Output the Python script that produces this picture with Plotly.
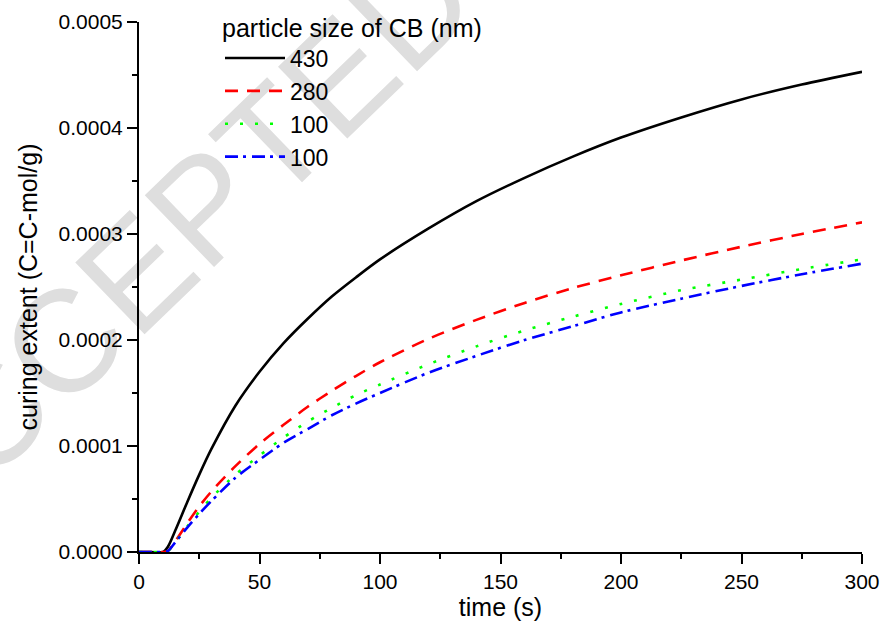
import base64
import plotly.graph_objects as go

# ---- data ----
time_s = [0, 5, 10, 12, 15, 20, 25, 30, 40, 50, 60, 70, 80, 90, 100,
          120, 140, 160, 180, 200, 225, 250, 275, 300]

cb_430 = [0, 0, 0, 0.000005, 0.000020, 0.000047, 0.000073, 0.000097, 0.000138,
          0.000170, 0.000197, 0.000220, 0.000241, 0.000259, 0.000276, 0.000305,
          0.000331, 0.000353, 0.000373, 0.000391, 0.000410, 0.000427, 0.000441, 0.000453]
cb_280 = [0, 0, 0, 0.000001, 0.000010, 0.000027, 0.000043, 0.000057, 0.000081,
          0.000102, 0.000120, 0.000137, 0.000152, 0.000166, 0.000179, 0.000201,
          0.000219, 0.000235, 0.000249, 0.000261, 0.000275, 0.000288, 0.000300, 0.000311]
cb_100a = [0, 0, 0, 0.000001, 0.000009, 0.000024, 0.000038, 0.000051, 0.000073,
           0.000091, 0.000108, 0.000123, 0.000136, 0.000148, 0.000158, 0.000177,
           0.000194, 0.000209, 0.000222, 0.000234, 0.000247, 0.000257, 0.000267, 0.000276]
cb_100b = [0, 0, 0, 0.000001, 0.000009, 0.000023, 0.000036, 0.000048, 0.000070,
           0.000087, 0.000103, 0.000116, 0.000129, 0.000140, 0.000150, 0.000169,
           0.000185, 0.000200, 0.000213, 0.000226, 0.000239, 0.000251, 0.000262, 0.000272]

series_names = ["430", "280", "100", "100"]
series_values = [cb_430, cb_280, cb_100a, cb_100b]
series_colors = ["#000000", "#ff0000", "#00ff00", "#0000ff"]
series_dash = ["solid", "13px,9px", "3px,12px", "13px,5px,3px,6px"]

x_ticks = [0, 50, 100, 150, 200, 250, 300]
y_ticks = [0, 0.0001, 0.0002, 0.0003, 0.0004, 0.0005]

FONT = "Liberation Sans, Arial, Helvetica, sans-serif"

fig = go.Figure()
for name, vals, col, dash in zip(series_names, series_values, series_colors, series_dash):
    fig.add_trace(go.Scatter(
        x=time_s, y=vals, name=name, mode="lines",
        line=dict(color=col, width=2.6, dash=dash, shape="spline", smoothing=0.8),
    ))

# faint watermark behind the plot, as an inline SVG image
W, H = 884, 628
wx, wy = 165, 245
svg = (f'<svg xmlns="http://www.w3.org/2000/svg" width="{W}" height="{H}">'
       f'<text x="{wx}" y="{wy}" font-family="Liberation Sans, Arial, sans-serif" font-size="145" '
       f'fill="#dedede" text-anchor="middle" dominant-baseline="central" '
       f'transform="rotate(-44 {wx} {wy})">ACCEPTED</text></svg>')
src = "data:image/svg+xml;base64," + base64.b64encode(svg.encode()).decode()

ml, mr, mt, mb = 139, 22, 22, 76
pw, ph = W - ml - mr, H - mt - mb
fig.add_layout_image(dict(
    source=src, xref="paper", yref="paper",
    x=-ml / pw, y=1 + mt / ph, sizex=W / pw, sizey=H / ph,
    xanchor="left", yanchor="top", sizing="stretch", layer="below",
))

axis_common = dict(
    showline=True, linecolor="black", linewidth=2, mirror=False,
    ticks="outside", ticklen=10, tickwidth=2, tickcolor="black",
    showgrid=False, zeroline=False, automargin=False,
    tickfont=dict(family=FONT, size=21, color="black"),
)

fig.update_xaxes(
    range=[0, 300], tickvals=x_ticks,
    title=dict(text="time (s)", font=dict(family=FONT, size=25, color="black"), standoff=6),
    minor=dict(dtick=25, ticks="outside", ticklen=5, tickwidth=2, tickcolor="black"),
    **axis_common,
)
fig.update_yaxes(
    range=[0, 0.0005], tickvals=y_ticks, tickformat=".4f",
    title=dict(text="curing extent (C=C-mol/g)", font=dict(family=FONT, size=25, color="black"), standoff=14),
    minor=dict(dtick=0.00005, ticks="outside", ticklen=5, tickwidth=2, tickcolor="black"),
    **axis_common,
)

fig.update_layout(
    width=W, height=H,
    margin=dict(l=ml, r=mr, t=mt, b=mb, autoexpand=False),
    paper_bgcolor="white", plot_bgcolor="rgba(0,0,0,0)",
    font=dict(family=FONT, color="black"),
    legend=dict(
        x=(220 - ml) / pw, y=1 + 18 / ph, xanchor="left", yanchor="top",
        bgcolor="rgba(0,0,0,0)", borderwidth=0,
        title=dict(text="particle size of CB (nm)", font=dict(family=FONT, size=25)),
        font=dict(family=FONT, size=23), itemwidth=60, tracegroupgap=0,
    ),
)

fig.write_html("out.html")
